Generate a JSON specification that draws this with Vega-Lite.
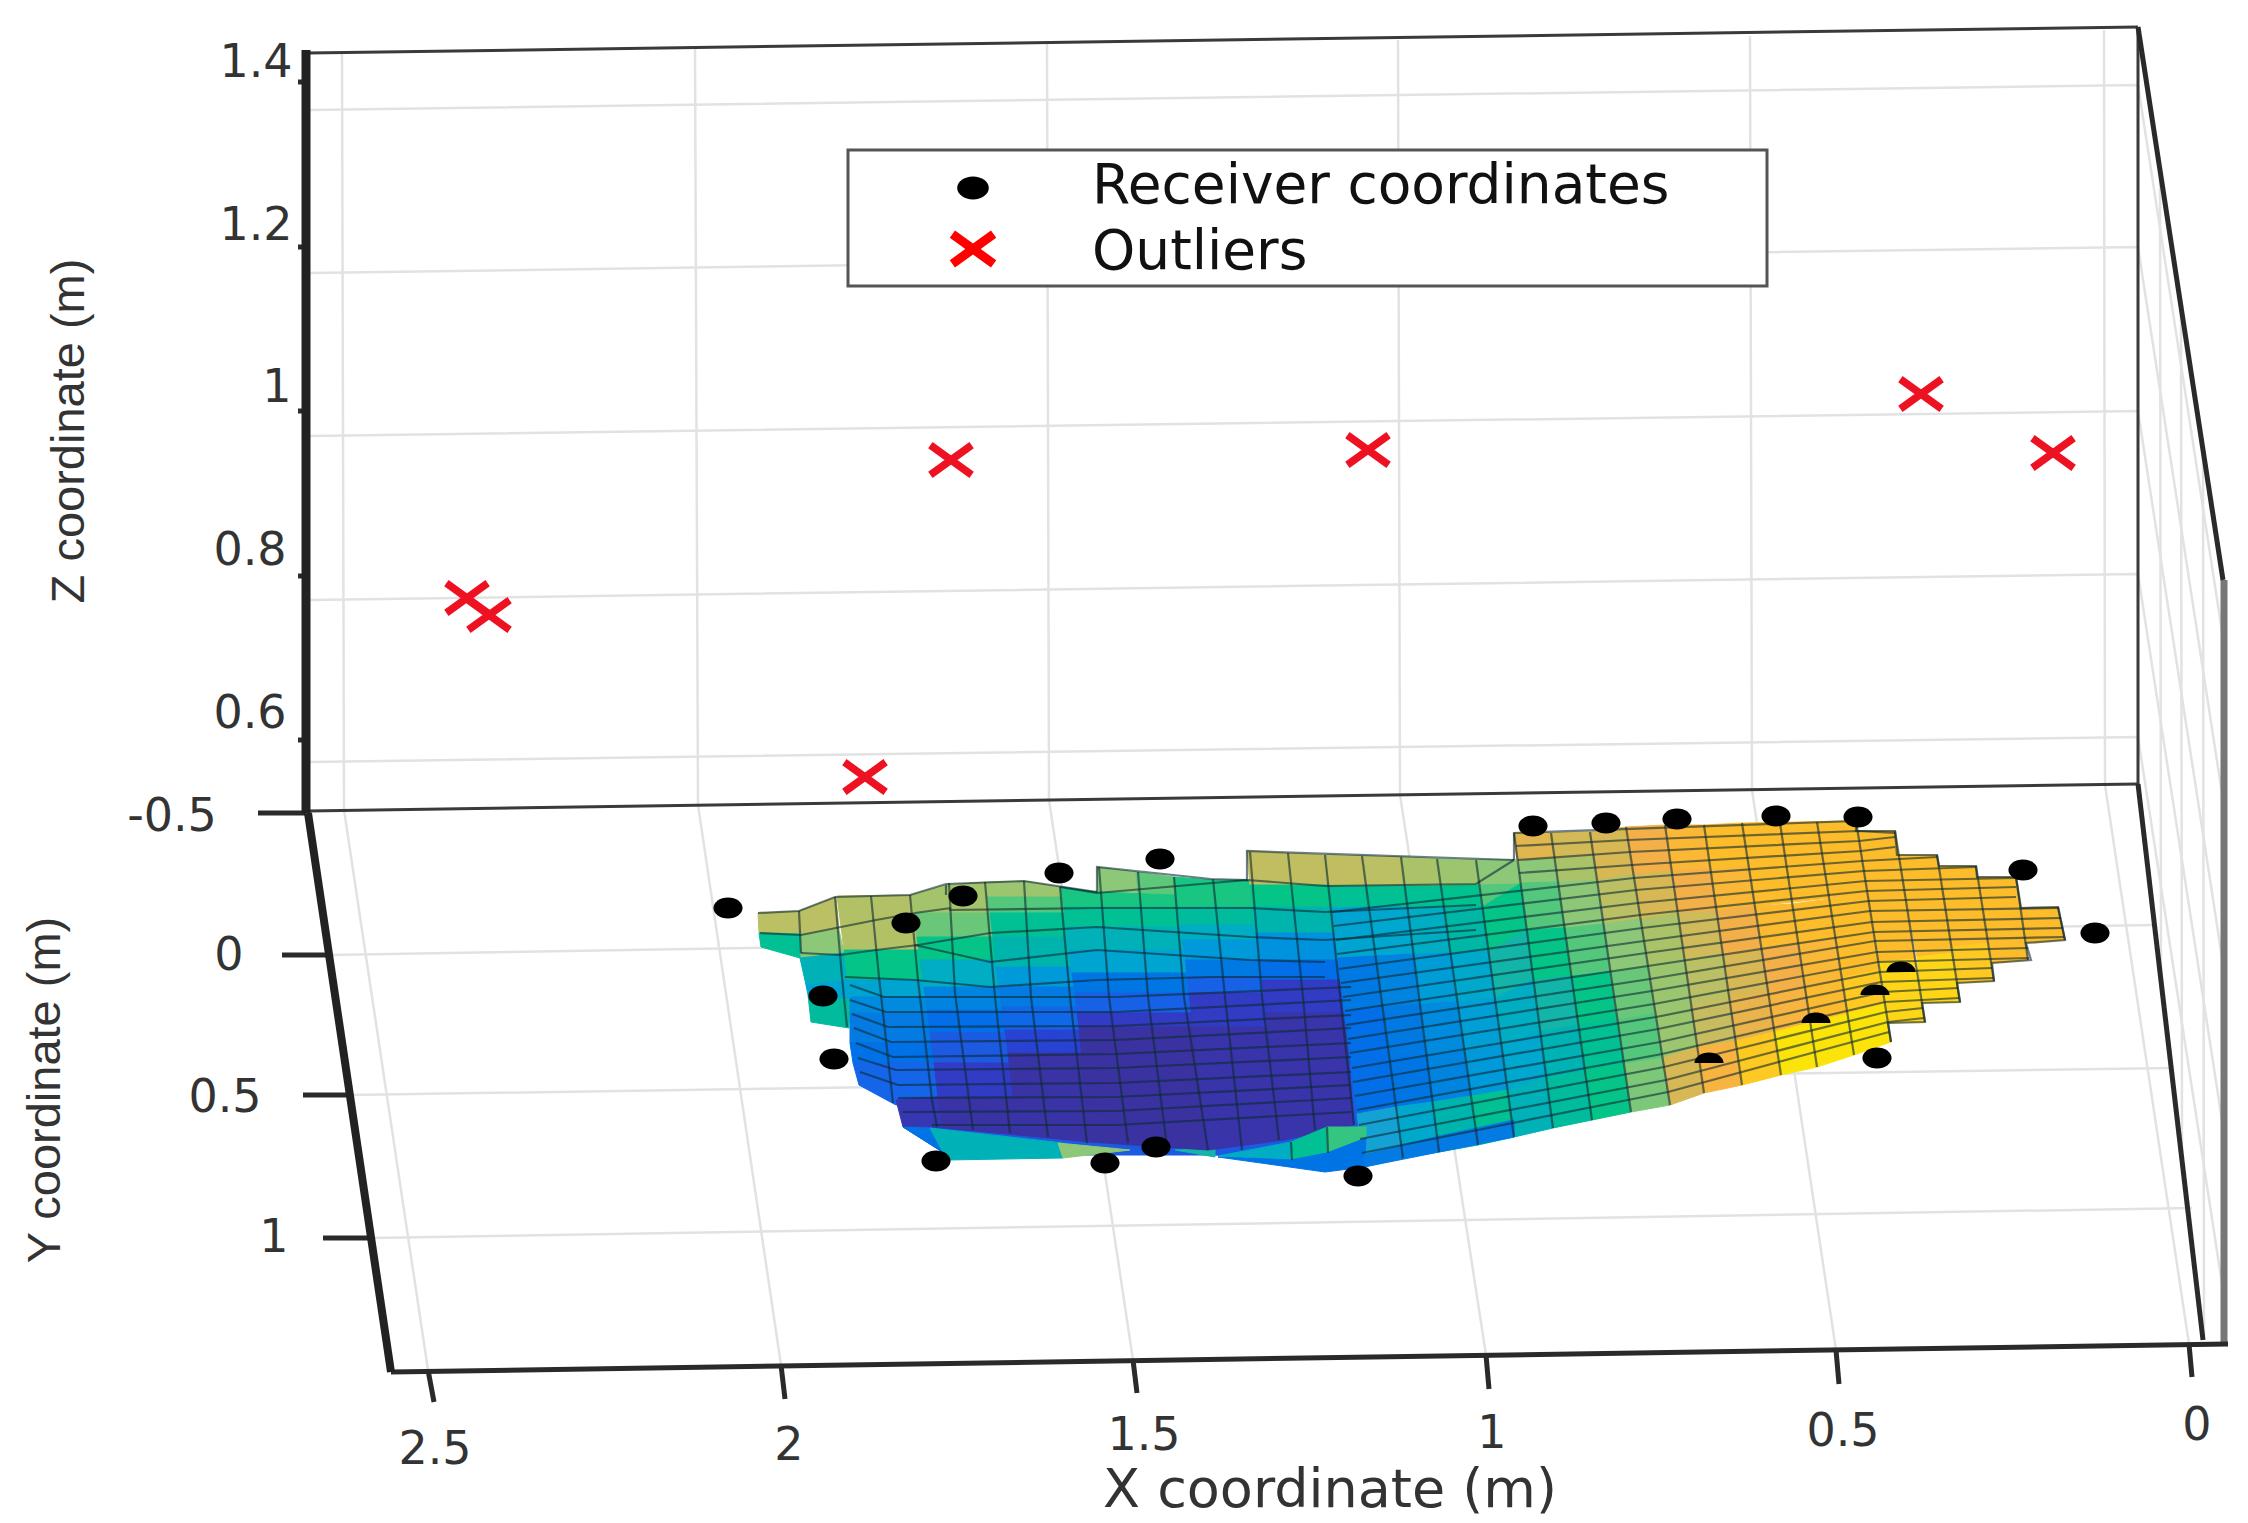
{"$schema":"https://vega.github.io/schema/vega-lite/v6.json","width":2248,"height":1523,"padding":0,"autosize":{"type":"none"},"background":"white","config":{"view":{"stroke":null}},
"layer":[
{"encoding":{"x":{"field":"x","type":"quantitative","scale":{"domain":[0,2248],"nice":false,"zero":false},"axis":null},"y":{"field":"y","type":"quantitative","scale":{"domain":[0,1523],"reverse":true,"nice":false,"zero":false},"axis":null}},
"layer":[
{"mark":{"type":"line","stroke":"#e2e2e2","strokeWidth":2.5},"encoding":{"detail":{"field":"i"}},"data":{"values":[
{"i":1,"x":342,"y":52},{"i":1,"x":344,"y":810},{"i":1,"x":428,"y":1370},
{"i":2,"x":695,"y":48},{"i":2,"x":698,"y":805},{"i":2,"x":781,"y":1365},
{"i":3,"x":1047,"y":44},{"i":3,"x":1049,"y":800},{"i":3,"x":1133,"y":1360},
{"i":4,"x":1398,"y":40},{"i":4,"x":1400,"y":795},{"i":4,"x":1486,"y":1355},
{"i":5,"x":1750,"y":36},{"i":5,"x":1752,"y":790},{"i":5,"x":1836,"y":1350},
{"i":6,"x":2104,"y":30},{"i":6,"x":2105,"y":785},{"i":6,"x":2189,"y":1344},
{"i":7,"x":310,"y":110},{"i":7,"x":2138,"y":85},{"i":7,"x":2223,"y":638},
{"i":8,"x":310,"y":273},{"i":8,"x":2138,"y":247},{"i":8,"x":2223,"y":800},
{"i":9,"x":310,"y":436},{"i":9,"x":2138,"y":411},{"i":9,"x":2223,"y":964},
{"i":10,"x":310,"y":600},{"i":10,"x":2138,"y":574},{"i":10,"x":2223,"y":1127},
{"i":11,"x":310,"y":762},{"i":11,"x":2138,"y":737},{"i":11,"x":2223,"y":1290},
{"i":12,"x":328,"y":955},{"i":12,"x":2154,"y":925},
{"i":13,"x":348,"y":1095},{"i":13,"x":2172,"y":1068},
{"i":14,"x":370,"y":1238},{"i":14,"x":2192,"y":1208},
{"i":15,"x":2160,"y":170},{"i":15,"x":2161,"y":972},
{"i":16,"x":2181,"y":307},{"i":16,"x":2182,"y":1152},
{"i":17,"x":2203,"y":450},{"i":17,"x":2204,"y":1340}]}},
{"mark":{"type":"rule","stroke":"#3a3a3a","strokeWidth":3},"encoding":{"x2":{"field":"x2"},"y2":{"field":"y2"}},"data":{"values":[
{"x":308,"y":53,"x2":2138,"y2":27},{"x":308,"y":811,"x2":2138,"y2":784},{"x":2138,"y":27,"x2":2138,"y2":784}]}},
{"mark":{"type":"rule","stroke":"#777777","strokeWidth":7},"encoding":{"x2":{"field":"x2"},"y2":{"field":"y2"}},"data":{"values":[{"x":2224,"y":580,"x2":2224,"y2":1344}]}},
{"mark":{"type":"rule","stroke":"#2a2a2a","strokeWidth":5},"encoding":{"x2":{"field":"x2"},"y2":{"field":"y2"}},"data":{"values":[
{"x":2138,"y":27,"x2":2223,"y2":580},{"x":2138,"y":784,"x2":2203,"y2":1340},{"x":391,"y":1372,"x2":2228,"y2":1344},
{"x":258,"y":813,"x2":306,"y2":813},{"x":282,"y":955,"x2":328,"y2":955},{"x":303,"y":1095,"x2":348,"y2":1095},{"x":323,"y":1238,"x2":370,"y2":1238},
{"x":428,"y":1370,"x2":434,"y2":1402},{"x":781,"y":1365,"x2":785,"y2":1399},{"x":1133,"y":1360,"x2":1137,"y2":1393},{"x":1486,"y":1355,"x2":1489,"y2":1389},{"x":1836,"y":1350,"x2":1839,"y2":1384},{"x":2189,"y":1344,"x2":2192,"y2":1377},
{"x":298,"y":82,"x2":306,"y2":82},{"x":298,"y":247,"x2":306,"y2":247},{"x":298,"y":411,"x2":306,"y2":411},{"x":298,"y":576,"x2":306,"y2":576},{"x":298,"y":740,"x2":306,"y2":740}]}},
{"mark":{"type":"rule","stroke":"#222222","strokeWidth":8},"encoding":{"x2":{"field":"x2"},"y2":{"field":"y2"}},"data":{"values":[{"x":308,"y":813,"x2":391,"y2":1372}]}},
{"mark":{"type":"rule","stroke":"#222222","strokeWidth":9},"encoding":{"x2":{"field":"x2"},"y2":{"field":"y2"}},"data":{"values":[{"x":306,"y":50,"x2":306,"y2":813}]}}
]},
{"mark":{"type":"geoshape"},"projection":{"type":"identity","scale":1,"translate":[0,0]},
"encoding":{"shape":{"field":"g","type":"geojson"},
"color":{"field":"v","type":"quantitative","legend":null,"scale":{"domain":[0,15,25,35,45,55,63,72,80,90,96,100],"range":["#3b2f96","#2a3fd0","#1565e8","#1180e0","#14a2d4","#12b5a8","#18c682","#8cc878","#c8bc60","#f4b048","#fdbc2a","#f8f200"]}},
"stroke":{"field":"v","type":"quantitative","legend":null,"scale":{"domain":[0,15,25,35,45,55,63,72,80,90,96,100],"range":["#3b2f96","#2a3fd0","#1565e8","#1180e0","#14a2d4","#12b5a8","#18c682","#8cc878","#c8bc60","#f4b048","#fdbc2a","#f8f200"]}}},
"data":{"values":[
{"v":22,"g":{"type":"Polygon","coordinates":[[[903,1127],[944,1153],[1063,1155],[1215,1155],[1325,1165],[1364,1160],[1360,1000],[1000,1000],[903,1127]]]}},
{"v":63,"g":{"type":"Polygon","coordinates":[[[1211,880],[1250,880],[1250,890],[1212,897],[1211,880]]]}},
{"v":78,"g":{"type":"Polygon","coordinates":[[[758,913],[799,911],[836,897],[839,930],[800,934],[759,933],[758,913]]]}},
{"v":72,"g":{"type":"Polygon","coordinates":[[[800,934],[839,930],[844,953],[800,958],[800,934]]]}},
{"v":60,"g":{"type":"Polygon","coordinates":[[[759,933],[800,934],[800,958],[761,947],[759,933]]]}},
{"v":52,"g":{"type":"Polygon","coordinates":[[[800,958],[844,953],[848,980],[806,985],[800,958]]]}},
{"v":46,"g":{"type":"Polygon","coordinates":[[[806,985],[848,980],[850,1000],[808,995],[806,985]]]}},
{"v":58,"g":{"type":"Polygon","coordinates":[[[808,995],[850,1000],[849,1028],[811,1022],[808,995]]]}},
{"v":77,"g":{"type":"Polygon","coordinates":[[[837,896],[912,895],[919,950],[844,950],[837,896]]]}},
{"v":62,"g":{"type":"Polygon","coordinates":[[[844,950],[919,950],[923,980],[848,980],[844,950]]]}},
{"v":46,"g":{"type":"Polygon","coordinates":[[[848,980],[923,980],[925,997],[850,997],[848,980]]]}},
{"v":38,"g":{"type":"Polygon","coordinates":[[[850,997],[925,997],[928,1013],[850,1013],[850,997]]]}},
{"v":33,"g":{"type":"Polygon","coordinates":[[[850,1013],[928,1013],[932,1043],[850,1043],[850,1013]]]}},
{"v":29,"g":{"type":"Polygon","coordinates":[[[850,1043],[932,1043],[934,1063],[853,1063],[850,1043]]]}},
{"v":25,"g":{"type":"Polygon","coordinates":[[[853,1063],[934,1063],[938,1100],[896,1105],[859,1085],[853,1063]]]}},
{"v":8,"g":{"type":"Polygon","coordinates":[[[896,1100],[938,1097],[943,1128],[903,1127],[896,1100]]]}},
{"v":30,"g":{"type":"Polygon","coordinates":[[[903,1127],[932,1128],[947,1160],[944,1153],[903,1127]]]}},
{"v":52,"g":{"type":"Polygon","coordinates":[[[930,1128],[1063,1143],[1063,1158],[947,1160],[930,1128]]]}},
{"v":72,"g":{"type":"Polygon","coordinates":[[[1058,1143],[1100,1147],[1130,1150],[1063,1158],[1058,1143]]]}},
{"v":55,"g":{"type":"Polygon","coordinates":[[[1175,1150],[1215,1148],[1215,1157],[1175,1150]]]}},
{"v":75,"g":{"type":"Polygon","coordinates":[[[911,895],[946,885],[986,882],[990,913],[915,913],[911,895]]]}},
{"v":68,"g":{"type":"Polygon","coordinates":[[[915,913],[990,913],[993,937],[917,937],[915,913]]]}},
{"v":62,"g":{"type":"Polygon","coordinates":[[[917,937],[993,937],[996,960],[920,960],[917,937]]]}},
{"v":50,"g":{"type":"Polygon","coordinates":[[[920,960],[996,960],[999,987],[924,987],[920,960]]]}},
{"v":36,"g":{"type":"Polygon","coordinates":[[[924,987],[999,987],[1002,1010],[927,1010],[924,987]]]}},
{"v":28,"g":{"type":"Polygon","coordinates":[[[927,1010],[1002,1010],[1005,1033],[930,1033],[927,1010]]]}},
{"v":22,"g":{"type":"Polygon","coordinates":[[[930,1033],[1005,1033],[1009,1063],[934,1063],[930,1033]]]}},
{"v":12,"g":{"type":"Polygon","coordinates":[[[934,1063],[1009,1063],[1013,1097],[938,1097],[934,1063]]]}},
{"v":4,"g":{"type":"Polygon","coordinates":[[[938,1097],[1013,1097],[1018,1135],[943,1128],[938,1097]]]}},
{"v":74,"g":{"type":"Polygon","coordinates":[[[986,882],[1024,881],[1060,887],[1063,897],[987,897],[986,882]]]}},
{"v":66,"g":{"type":"Polygon","coordinates":[[[987,897],[1063,897],[1065,913],[990,913],[987,897]]]}},
{"v":60,"g":{"type":"Polygon","coordinates":[[[990,913],[1065,913],[1068,937],[993,937],[990,913]]]}},
{"v":54,"g":{"type":"Polygon","coordinates":[[[993,937],[1068,937],[1072,967],[996,967],[993,937]]]}},
{"v":42,"g":{"type":"Polygon","coordinates":[[[996,967],[1072,967],[1075,987],[999,987],[996,967]]]}},
{"v":33,"g":{"type":"Polygon","coordinates":[[[999,987],[1075,987],[1077,1007],[1002,1007],[999,987]]]}},
{"v":26,"g":{"type":"Polygon","coordinates":[[[1002,1007],[1077,1007],[1080,1030],[1005,1030],[1002,1007]]]}},
{"v":16,"g":{"type":"Polygon","coordinates":[[[1005,1030],[1080,1030],[1083,1053],[1008,1053],[1005,1030]]]}},
{"v":4,"g":{"type":"Polygon","coordinates":[[[1008,1053],[1083,1053],[1090,1142],[1018,1135],[1008,1053]]]}},
{"v":72,"g":{"type":"Polygon","coordinates":[[[1097,867],[1136,872],[1138,893],[1098,892],[1097,867]]]}},
{"v":67,"g":{"type":"Polygon","coordinates":[[[1136,872],[1174,877],[1176,895],[1138,893],[1136,872]]]}},
{"v":63,"g":{"type":"Polygon","coordinates":[[[1174,877],[1211,880],[1212,897],[1176,895],[1174,877]]]}},
{"v":63,"g":{"type":"Polygon","coordinates":[[[1060,887],[1097,892],[1176,895],[1178,907],[1064,907],[1060,887]]]}},
{"v":60,"g":{"type":"Polygon","coordinates":[[[1064,907],[1178,907],[1180,927],[1066,927],[1064,907]]]}},
{"v":52,"g":{"type":"Polygon","coordinates":[[[1066,927],[1180,927],[1183,950],[1069,950],[1066,927]]]}},
{"v":46,"g":{"type":"Polygon","coordinates":[[[1069,950],[1183,950],[1186,973],[1072,973],[1069,950]]]}},
{"v":31,"g":{"type":"Polygon","coordinates":[[[1072,973],[1186,973],[1189,993],[1075,993],[1072,973]]]}},
{"v":24,"g":{"type":"Polygon","coordinates":[[[1075,993],[1189,993],[1192,1013],[1077,1013],[1075,993]]]}},
{"v":12,"g":{"type":"Polygon","coordinates":[[[1077,1013],[1192,1013],[1193,1027],[1079,1027],[1077,1013]]]}},
{"v":3,"g":{"type":"Polygon","coordinates":[[[1079,1027],[1193,1027],[1208,1150],[1090,1142],[1079,1027]]]}},
{"v":63,"g":{"type":"Polygon","coordinates":[[[1174,895],[1250,885],[1253,907],[1178,907],[1174,895]]]}},
{"v":58,"g":{"type":"Polygon","coordinates":[[[1178,907],[1253,907],[1255,925],[1180,925],[1178,907]]]}},
{"v":50,"g":{"type":"Polygon","coordinates":[[[1180,925],[1255,925],[1258,940],[1182,940],[1180,925]]]}},
{"v":42,"g":{"type":"Polygon","coordinates":[[[1182,940],[1258,940],[1260,960],[1185,960],[1182,940]]]}},
{"v":32,"g":{"type":"Polygon","coordinates":[[[1185,960],[1260,960],[1262,977],[1187,977],[1185,960]]]}},
{"v":24,"g":{"type":"Polygon","coordinates":[[[1187,977],[1262,977],[1264,993],[1189,993],[1187,977]]]}},
{"v":12,"g":{"type":"Polygon","coordinates":[[[1189,993],[1264,993],[1268,1027],[1193,1027],[1189,993]]]}},
{"v":5,"g":{"type":"Polygon","coordinates":[[[1193,1027],[1268,1027],[1284,1140],[1208,1150],[1193,1027]]]}},
{"v":79,"g":{"type":"Polygon","coordinates":[[[1247,851],[1286,853],[1325,855],[1329,885],[1250,885],[1247,851]]]}},
{"v":62,"g":{"type":"Polygon","coordinates":[[[1250,885],[1329,885],[1332,907],[1253,907],[1250,885]]]}},
{"v":54,"g":{"type":"Polygon","coordinates":[[[1253,907],[1332,907],[1335,933],[1256,933],[1253,907]]]}},
{"v":40,"g":{"type":"Polygon","coordinates":[[[1256,933],[1335,933],[1338,960],[1260,960],[1256,933]]]}},
{"v":28,"g":{"type":"Polygon","coordinates":[[[1260,960],[1338,960],[1341,980],[1262,980],[1260,960]]]}},
{"v":12,"g":{"type":"Polygon","coordinates":[[[1262,980],[1341,980],[1345,1013],[1266,1013],[1262,980]]]}},
{"v":5,"g":{"type":"Polygon","coordinates":[[[1266,1013],[1345,1013],[1354,1125],[1284,1140],[1266,1013]]]}},
{"v":60,"g":{"type":"Polygon","coordinates":[[[1325,855],[1362,856],[1369,907],[1332,908],[1325,855]]]}},
{"v":60,"g":{"type":"Polygon","coordinates":[[[1362,856],[1401,857],[1407,907],[1369,907],[1362,856]]]}},
{"v":60,"g":{"type":"Polygon","coordinates":[[[1401,857],[1437,859],[1444,908],[1407,907],[1401,857]]]}},
{"v":61,"g":{"type":"Polygon","coordinates":[[[1437,859],[1476,860],[1482,907],[1444,908],[1437,859]]]}},
{"v":66,"g":{"type":"Polygon","coordinates":[[[1476,860],[1516,860],[1521,883],[1482,907],[1476,860]]]}},
{"v":72,"g":{"type":"Polygon","coordinates":[[[1514,833],[1551,833],[1558,882],[1521,883],[1514,833]]]}},
{"v":76,"g":{"type":"Polygon","coordinates":[[[1551,833],[1590,832],[1597,880],[1558,882],[1551,833]]]}},
{"v":84,"g":{"type":"Polygon","coordinates":[[[1590,832],[1626,827],[1633,874],[1597,880],[1590,832]]]}},
{"v":90,"g":{"type":"Polygon","coordinates":[[[1626,827],[1665,825],[1672,871],[1633,874],[1626,827]]]}},
{"v":94,"g":{"type":"Polygon","coordinates":[[[1665,825],[1704,825],[1710,869],[1672,871],[1665,825]]]}},
{"v":96,"g":{"type":"Polygon","coordinates":[[[1704,825],[1742,823],[1749,866],[1710,869],[1704,825]]]}},
{"v":46,"g":{"type":"Polygon","coordinates":[[[1332,908],[1369,907],[1376,956],[1338,958],[1332,908]]]}},
{"v":47,"g":{"type":"Polygon","coordinates":[[[1369,907],[1407,907],[1414,954],[1376,956],[1369,907]]]}},
{"v":50,"g":{"type":"Polygon","coordinates":[[[1407,907],[1444,908],[1451,953],[1414,954],[1407,907]]]}},
{"v":56,"g":{"type":"Polygon","coordinates":[[[1444,908],[1482,907],[1489,951],[1451,953],[1444,908]]]}},
{"v":62,"g":{"type":"Polygon","coordinates":[[[1482,907],[1521,883],[1527,930],[1489,951],[1482,907]]]}},
{"v":66,"g":{"type":"Polygon","coordinates":[[[1521,883],[1558,882],[1565,928],[1527,930],[1521,883]]]}},
{"v":72,"g":{"type":"Polygon","coordinates":[[[1558,882],[1597,880],[1604,924],[1565,928],[1558,882]]]}},
{"v":78,"g":{"type":"Polygon","coordinates":[[[1597,880],[1633,874],[1641,919],[1604,924],[1597,880]]]}},
{"v":84,"g":{"type":"Polygon","coordinates":[[[1633,874],[1672,871],[1678,913],[1641,919],[1633,874]]]}},
{"v":90,"g":{"type":"Polygon","coordinates":[[[1672,871],[1710,869],[1717,911],[1678,913],[1672,871]]]}},
{"v":94,"g":{"type":"Polygon","coordinates":[[[1710,869],[1749,866],[1755,906],[1717,911],[1710,869]]]}},
{"v":96,"g":{"type":"Polygon","coordinates":[[[1742,823],[1856,821],[1868,894],[1755,906],[1742,823]]]}},
{"v":32,"g":{"type":"Polygon","coordinates":[[[1338,958],[1376,956],[1382,1007],[1344,1011],[1338,958]]]}},
{"v":36,"g":{"type":"Polygon","coordinates":[[[1376,956],[1414,954],[1420,1004],[1382,1007],[1376,956]]]}},
{"v":43,"g":{"type":"Polygon","coordinates":[[[1414,954],[1451,953],[1457,1002],[1420,1004],[1414,954]]]}},
{"v":48,"g":{"type":"Polygon","coordinates":[[[1451,953],[1489,951],[1495,998],[1457,1002],[1451,953]]]}},
{"v":55,"g":{"type":"Polygon","coordinates":[[[1489,951],[1527,930],[1533,980],[1495,998],[1489,951]]]}},
{"v":62,"g":{"type":"Polygon","coordinates":[[[1527,930],[1565,928],[1571,976],[1533,980],[1527,930]]]}},
{"v":66,"g":{"type":"Polygon","coordinates":[[[1565,928],[1604,924],[1610,972],[1571,976],[1565,928]]]}},
{"v":72,"g":{"type":"Polygon","coordinates":[[[1604,924],[1641,919],[1648,966],[1610,972],[1604,924]]]}},
{"v":76,"g":{"type":"Polygon","coordinates":[[[1641,919],[1678,913],[1684,959],[1648,966],[1641,919]]]}},
{"v":82,"g":{"type":"Polygon","coordinates":[[[1678,913],[1717,911],[1723,955],[1684,959],[1678,913]]]}},
{"v":90,"g":{"type":"Polygon","coordinates":[[[1717,911],[1755,906],[1761,949],[1723,955],[1717,911]]]}},
{"v":95,"g":{"type":"Polygon","coordinates":[[[1755,906],[1792,904],[1798,945],[1761,949],[1755,906]]]}},
{"v":96,"g":{"type":"Polygon","coordinates":[[[1792,904],[1868,894],[1873,931],[1798,945],[1792,904]]]}},
{"v":28,"g":{"type":"Polygon","coordinates":[[[1344,1011],[1382,1007],[1389,1058],[1351,1064],[1344,1011]]]}},
{"v":32,"g":{"type":"Polygon","coordinates":[[[1382,1007],[1420,1004],[1426,1055],[1389,1058],[1382,1007]]]}},
{"v":38,"g":{"type":"Polygon","coordinates":[[[1420,1004],[1457,1002],[1464,1051],[1426,1055],[1420,1004]]]}},
{"v":44,"g":{"type":"Polygon","coordinates":[[[1457,1002],[1495,998],[1501,1046],[1464,1051],[1457,1002]]]}},
{"v":50,"g":{"type":"Polygon","coordinates":[[[1495,998],[1533,980],[1540,1031],[1501,1046],[1495,998]]]}},
{"v":55,"g":{"type":"Polygon","coordinates":[[[1533,980],[1571,976],[1578,1025],[1540,1031],[1533,980]]]}},
{"v":62,"g":{"type":"Polygon","coordinates":[[[1571,976],[1610,972],[1617,1020],[1578,1025],[1571,976]]]}},
{"v":68,"g":{"type":"Polygon","coordinates":[[[1610,972],[1648,966],[1655,1013],[1617,1020],[1610,972]]]}},
{"v":74,"g":{"type":"Polygon","coordinates":[[[1648,966],[1684,959],[1691,1005],[1655,1013],[1648,966]]]}},
{"v":78,"g":{"type":"Polygon","coordinates":[[[1684,959],[1723,955],[1729,999],[1691,1005],[1684,959]]]}},
{"v":84,"g":{"type":"Polygon","coordinates":[[[1723,955],[1761,949],[1768,992],[1729,999],[1723,955]]]}},
{"v":90,"g":{"type":"Polygon","coordinates":[[[1761,949],[1798,945],[1805,986],[1768,992],[1761,949]]]}},
{"v":94,"g":{"type":"Polygon","coordinates":[[[1798,945],[1835,938],[1842,978],[1805,986],[1798,945]]]}},
{"v":96,"g":{"type":"Polygon","coordinates":[[[1835,938],[1873,931],[1879,969],[1842,978],[1835,938]]]}},
{"v":28,"g":{"type":"Polygon","coordinates":[[[1351,1064],[1389,1058],[1396,1107],[1357,1114],[1351,1064]]]}},
{"v":31,"g":{"type":"Polygon","coordinates":[[[1389,1058],[1426,1055],[1433,1102],[1396,1107],[1389,1058]]]}},
{"v":36,"g":{"type":"Polygon","coordinates":[[[1426,1055],[1464,1051],[1471,1096],[1433,1102],[1426,1055]]]}},
{"v":42,"g":{"type":"Polygon","coordinates":[[[1464,1051],[1501,1046],[1508,1090],[1471,1096],[1464,1051]]]}},
{"v":47,"g":{"type":"Polygon","coordinates":[[[1501,1046],[1540,1031],[1546,1078],[1508,1090],[1501,1046]]]}},
{"v":53,"g":{"type":"Polygon","coordinates":[[[1540,1031],[1578,1025],[1585,1071],[1546,1078],[1540,1031]]]}},
{"v":60,"g":{"type":"Polygon","coordinates":[[[1578,1025],[1617,1020],[1624,1064],[1585,1071],[1578,1025]]]}},
{"v":66,"g":{"type":"Polygon","coordinates":[[[1617,1020],[1655,1013],[1663,1058],[1624,1064],[1617,1020]]]}},
{"v":74,"g":{"type":"Polygon","coordinates":[[[1655,1013],[1691,1005],[1697,1047],[1663,1058],[1655,1013]]]}},
{"v":80,"g":{"type":"Polygon","coordinates":[[[1691,1005],[1729,999],[1736,1041],[1697,1047],[1691,1005]]]}},
{"v":88,"g":{"type":"Polygon","coordinates":[[[1729,999],[1768,992],[1774,1032],[1736,1041],[1729,999]]]}},
{"v":92,"g":{"type":"Polygon","coordinates":[[[1768,992],[1805,986],[1811,1026],[1774,1032],[1768,992]]]}},
{"v":95,"g":{"type":"Polygon","coordinates":[[[1805,986],[1842,978],[1848,1015],[1811,1026],[1805,986]]]}},
{"v":97,"g":{"type":"Polygon","coordinates":[[[1842,978],[1879,969],[1885,1004],[1848,1015],[1842,978]]]}},
{"v":45,"g":{"type":"Polygon","coordinates":[[[1357,1114],[1396,1107],[1403,1158],[1364,1167],[1357,1114]]]}},
{"v":48,"g":{"type":"Polygon","coordinates":[[[1396,1107],[1433,1102],[1439,1152],[1403,1158],[1396,1107]]]}},
{"v":54,"g":{"type":"Polygon","coordinates":[[[1433,1102],[1471,1096],[1478,1145],[1439,1152],[1433,1102]]]}},
{"v":60,"g":{"type":"Polygon","coordinates":[[[1471,1096],[1508,1090],[1514,1137],[1478,1145],[1471,1096]]]}},
{"v":52,"g":{"type":"Polygon","coordinates":[[[1508,1090],[1546,1078],[1553,1128],[1514,1137],[1508,1090]]]}},
{"v":58,"g":{"type":"Polygon","coordinates":[[[1546,1078],[1585,1071],[1592,1120],[1553,1128],[1546,1078]]]}},
{"v":62,"g":{"type":"Polygon","coordinates":[[[1585,1071],[1624,1064],[1631,1112],[1592,1120],[1585,1071]]]}},
{"v":70,"g":{"type":"Polygon","coordinates":[[[1624,1064],[1663,1058],[1670,1105],[1631,1112],[1624,1064]]]}},
{"v":84,"g":{"type":"Polygon","coordinates":[[[1663,1058],[1697,1047],[1704,1093],[1670,1105],[1663,1058]]]}},
{"v":92,"g":{"type":"Polygon","coordinates":[[[1697,1047],[1736,1041],[1742,1085],[1704,1093],[1697,1047]]]}},
{"v":97,"g":{"type":"Polygon","coordinates":[[[1736,1041],[1774,1032],[1781,1075],[1742,1085],[1736,1041]]]}},
{"v":99,"g":{"type":"Polygon","coordinates":[[[1774,1032],[1885,1004],[1891,1042],[1854,1055],[1817,1067],[1781,1075],[1774,1032]]]}},
{"v":96,"g":{"type":"Polygon","coordinates":[[[1858,831],[1895,831],[1915,959],[1879,962],[1858,831]]]}},
{"v":98,"g":{"type":"Polygon","coordinates":[[[1879,962],[1915,959],[1925,1022],[1888,1023],[1879,962]]]}},
{"v":96,"g":{"type":"Polygon","coordinates":[[[1897,855],[1937,855],[1952,953],[1917,957],[1897,855]]]}},
{"v":98,"g":{"type":"Polygon","coordinates":[[[1917,957],[1952,953],[1960,1002],[1922,1003],[1917,957]]]}},
{"v":96,"g":{"type":"Polygon","coordinates":[[[1939,866],[1976,866],[1988,943],[1951,947],[1939,866]]]}},
{"v":97,"g":{"type":"Polygon","coordinates":[[[1951,947],[1988,943],[1994,981],[1957,983],[1951,947]]]}},
{"v":96,"g":{"type":"Polygon","coordinates":[[[1977,877],[2016,877],[2028,960],[1992,963],[1977,877]]]}},
{"v":96,"g":{"type":"Polygon","coordinates":[[[2021,908],[2058,907],[2065,940],[2026,943],[2021,908]]]}},
{"v":79,"g":{"type":"Polygon","coordinates":[[[1325,855],[1362,856],[1364,885],[1329,885],[1325,855]]]}},
{"v":78,"g":{"type":"Polygon","coordinates":[[[1362,856],[1401,857],[1403,885],[1364,885],[1362,856]]]}},
{"v":76,"g":{"type":"Polygon","coordinates":[[[1401,857],[1437,859],[1440,885],[1403,885],[1401,857]]]}},
{"v":74,"g":{"type":"Polygon","coordinates":[[[1437,859],[1476,860],[1478,884],[1440,885],[1437,859]]]}},
{"v":72,"g":{"type":"Polygon","coordinates":[[[1476,860],[1516,860],[1521,883],[1478,884],[1476,860]]]}},
{"v":86,"g":{"type":"Polygon","coordinates":[[[1514,833],[1551,833],[1554,858],[1517,860],[1514,833]]]}},
{"v":83,"g":{"type":"Polygon","coordinates":[[[1551,833],[1590,832],[1593,855],[1554,858],[1551,833]]]}},
{"v":50,"g":{"type":"Polygon","coordinates":[[[1218,1156],[1291,1142],[1291,1160],[1218,1156]]]}},
{"v":60,"g":{"type":"Polygon","coordinates":[[[1291,1142],[1327,1127],[1327,1153],[1291,1160],[1291,1142]]]}},
{"v":64,"g":{"type":"Polygon","coordinates":[[[1327,1127],[1366,1127],[1366,1138],[1327,1153],[1327,1127]]]}},
{"v":30,"g":{"type":"Polygon","coordinates":[[[1218,1157],[1291,1160],[1327,1153],[1366,1138],[1364,1167],[1325,1172],[1218,1157]]]}},
{"v":33,"g":{"type":"Polygon","coordinates":[[[1364,1167],[1439,1152],[1514,1137],[1514,1120],[1439,1136],[1364,1155],[1364,1167]]]}}
]}},
{"encoding":{"x":{"field":"x","type":"quantitative"},"y":{"field":"y","type":"quantitative"}},
"layer":[
{"mark":{"type":"line","stroke":"#0d2a33","strokeWidth":2.2,"opacity":0.6},"encoding":{"detail":{"field":"i"}},"data":{"values":[
{"i":1,"x":799,"y":911},{"i":1,"x":801,"y":953},
{"i":2,"x":835,"y":897},{"i":2,"x":842,"y":977},{"i":2,"x":847,"y":1027},
{"i":3,"x":871,"y":896},{"i":3,"x":879,"y":977},{"i":3,"x":893,"y":1103},
{"i":4,"x":910,"y":895},{"i":4,"x":918,"y":980},{"i":4,"x":932,"y":1100},{"i":4,"x":937,"y":1127},
{"i":5,"x":949,"y":883},{"i":5,"x":955,"y":993},{"i":5,"x":973,"y":1130},
{"i":6,"x":985,"y":882},{"i":6,"x":995,"y":997},{"i":6,"x":1010,"y":1133},
{"i":7,"x":1024,"y":881},{"i":7,"x":1031,"y":997},{"i":7,"x":1048,"y":1137},
{"i":8,"x":1060,"y":887},{"i":8,"x":1070,"y":997},{"i":8,"x":1087,"y":1143},
{"i":9,"x":1099,"y":867},{"i":9,"x":1109,"y":997},{"i":9,"x":1128,"y":1143},
{"i":10,"x":1138,"y":872},{"i":10,"x":1148,"y":997},{"i":10,"x":1167,"y":1147},
{"i":11,"x":1174,"y":877},{"i":11,"x":1184,"y":997},{"i":11,"x":1208,"y":1150},
{"i":12,"x":1213,"y":879},{"i":12,"x":1225,"y":997},{"i":12,"x":1242,"y":1150},
{"i":13,"x":1250,"y":852},{"i":13,"x":1262,"y":997},{"i":13,"x":1279,"y":1140},
{"i":14,"x":1288,"y":853},{"i":14,"x":1303,"y":997},{"i":14,"x":1315,"y":1130},
{"i":15,"x":1325,"y":855},{"i":15,"x":1354,"y":1125},
{"i":16,"x":1291,"y":1142},{"i":16,"x":1292,"y":1160},
{"i":17,"x":1327,"y":1127},{"i":17,"x":1328,"y":1153},
{"i":21,"x":1362,"y":856},{"i":21,"x":1403,"y":1158},
{"i":22,"x":1401,"y":857},{"i":22,"x":1439,"y":1152},
{"i":23,"x":1437,"y":859},{"i":23,"x":1478,"y":1145},
{"i":24,"x":1476,"y":860},{"i":24,"x":1514,"y":1137},
{"i":25,"x":1514,"y":833},{"i":25,"x":1553,"y":1128},
{"i":26,"x":1551,"y":833},{"i":26,"x":1592,"y":1120},
{"i":27,"x":1590,"y":832},{"i":27,"x":1631,"y":1112},
{"i":28,"x":1626,"y":827},{"i":28,"x":1670,"y":1105},
{"i":29,"x":1665,"y":825},{"i":29,"x":1704,"y":1093},
{"i":30,"x":1704,"y":825},{"i":30,"x":1742,"y":1085},
{"i":31,"x":1742,"y":823},{"i":31,"x":1781,"y":1075},
{"i":32,"x":1780,"y":823},{"i":32,"x":1817,"y":1067},
{"i":33,"x":1817,"y":822},{"i":33,"x":1854,"y":1055},
{"i":34,"x":1856,"y":821},{"i":34,"x":1891,"y":1042},
{"i":35,"x":1895,"y":831},{"i":35,"x":1925,"y":1022},
{"i":36,"x":1937,"y":855},{"i":36,"x":1960,"y":1002},
{"i":37,"x":1976,"y":866},{"i":37,"x":1994,"y":981},
{"i":38,"x":2016,"y":877},{"i":38,"x":2028,"y":960},
{"i":39,"x":2058,"y":907},{"i":39,"x":2065,"y":940},
{"i":41,"x":760,"y":933},{"i":41,"x":801,"y":935},{"i":41,"x":876,"y":920},{"i":41,"x":915,"y":913},{"i":41,"x":951,"y":908},
{"i":42,"x":801,"y":953},{"i":42,"x":840,"y":955},{"i":42,"x":876,"y":950},{"i":42,"x":918,"y":945},
{"i":43,"x":1060,"y":887},{"i":43,"x":1097,"y":893},{"i":43,"x":1247,"y":880},{"i":43,"x":1325,"y":886},{"i":43,"x":1476,"y":884},{"i":43,"x":1514,"y":860},
{"i":44,"x":949,"y":910},{"i":44,"x":1097,"y":908},{"i":44,"x":1250,"y":908},{"i":44,"x":1325,"y":912},{"i":44,"x":1476,"y":905},
{"i":45,"x":918,"y":945},{"i":45,"x":990,"y":933},{"i":45,"x":1097,"y":927},{"i":45,"x":1250,"y":937},{"i":45,"x":1325,"y":940},{"i":45,"x":1476,"y":930},
{"i":46,"x":915,"y":945},{"i":46,"x":990,"y":962},{"i":46,"x":1097,"y":950},{"i":46,"x":1250,"y":960},{"i":46,"x":1325,"y":962},
{"i":47,"x":845,"y":977},{"i":47,"x":915,"y":980},{"i":47,"x":990,"y":987},{"i":47,"x":1097,"y":980},{"i":47,"x":1213,"y":977},{"i":47,"x":1325,"y":977},
{"i":51,"x":850,"y":985},{"i":51,"x":884,"y":997},{"i":51,"x":1116,"y":997},{"i":51,"x":1351,"y":987},
{"i":52,"x":850,"y":1000},{"i":52,"x":886,"y":1012},{"i":52,"x":1116,"y":1012},{"i":52,"x":1351,"y":1000},
{"i":53,"x":852,"y":1014},{"i":53,"x":888,"y":1027},{"i":53,"x":1116,"y":1026},{"i":53,"x":1351,"y":1015},
{"i":54,"x":854,"y":1028},{"i":54,"x":891,"y":1042},{"i":54,"x":1116,"y":1040},{"i":54,"x":1351,"y":1028},
{"i":55,"x":856,"y":1043},{"i":55,"x":893,"y":1057},{"i":55,"x":1116,"y":1054},{"i":55,"x":1351,"y":1043},
{"i":56,"x":858,"y":1058},{"i":56,"x":896,"y":1070},{"i":56,"x":1116,"y":1068},{"i":56,"x":1351,"y":1057},
{"i":57,"x":860,"y":1072},{"i":57,"x":898,"y":1085},{"i":57,"x":1116,"y":1083},{"i":57,"x":1351,"y":1072},
{"i":58,"x":898,"y":1098},{"i":58,"x":1116,"y":1097},{"i":58,"x":1351,"y":1085},
{"i":59,"x":903,"y":1112},{"i":59,"x":1116,"y":1111},{"i":59,"x":1351,"y":1098},
{"i":60,"x":932,"y":1125},{"i":60,"x":1116,"y":1125},{"i":60,"x":1351,"y":1112},
{"i":61,"x":1516,"y":846},{"i":61,"x":1628,"y":840},{"i":61,"x":1858,"y":831},{"i":61,"x":1895,"y":833},
{"i":62,"x":1518,"y":860},{"i":62,"x":1630,"y":852},{"i":62,"x":1859,"y":841},{"i":62,"x":1895,"y":837},
{"i":63,"x":1519,"y":873},{"i":63,"x":1632,"y":865},{"i":63,"x":1861,"y":851},{"i":63,"x":1895,"y":847},
{"i":64,"x":1332,"y":912},{"i":64,"x":1634,"y":878},{"i":64,"x":1862,"y":861},{"i":64,"x":1937,"y":857},
{"i":65,"x":1334,"y":926},{"i":65,"x":1636,"y":890},{"i":65,"x":1864,"y":871},{"i":65,"x":1976,"y":867},
{"i":66,"x":1336,"y":940},{"i":66,"x":1638,"y":903},{"i":66,"x":1866,"y":881},{"i":66,"x":2016,"y":878},
{"i":67,"x":1337,"y":954},{"i":67,"x":1640,"y":915},{"i":67,"x":1867,"y":891},{"i":67,"x":2016,"y":887},
{"i":68,"x":1339,"y":969},{"i":68,"x":1642,"y":928},{"i":68,"x":1869,"y":901},{"i":68,"x":2016,"y":897},
{"i":69,"x":1341,"y":983},{"i":69,"x":1644,"y":941},{"i":69,"x":1870,"y":911},{"i":69,"x":2059,"y":908},
{"i":70,"x":1343,"y":997},{"i":70,"x":1646,"y":953},{"i":70,"x":1872,"y":922},{"i":70,"x":2061,"y":918},
{"i":71,"x":1345,"y":1011},{"i":71,"x":1648,"y":966},{"i":71,"x":1874,"y":932},{"i":71,"x":2063,"y":928},
{"i":72,"x":1346,"y":1025},{"i":72,"x":1650,"y":979},{"i":72,"x":1875,"y":941},{"i":72,"x":2064,"y":937},
{"i":73,"x":1348,"y":1039},{"i":73,"x":1652,"y":991},{"i":73,"x":1877,"y":952},{"i":73,"x":2028,"y":948},
{"i":74,"x":1350,"y":1053},{"i":74,"x":1654,"y":1004},{"i":74,"x":1878,"y":962},{"i":74,"x":2029,"y":958},
{"i":75,"x":1352,"y":1068},{"i":75,"x":1656,"y":1017},{"i":75,"x":1880,"y":972},{"i":75,"x":1992,"y":968},
{"i":76,"x":1353,"y":1082},{"i":76,"x":1658,"y":1029},{"i":76,"x":1881,"y":982},{"i":76,"x":1993,"y":978},
{"i":77,"x":1355,"y":1096},{"i":77,"x":1660,"y":1042},{"i":77,"x":1883,"y":992},{"i":77,"x":1958,"y":988},
{"i":78,"x":1357,"y":1110},{"i":78,"x":1662,"y":1054},{"i":78,"x":1885,"y":1002},{"i":78,"x":1959,"y":998},
{"i":79,"x":1359,"y":1125},{"i":79,"x":1664,"y":1067},{"i":79,"x":1886,"y":1012},{"i":79,"x":1923,"y":1008},
{"i":80,"x":1360,"y":1139},{"i":80,"x":1666,"y":1080},{"i":80,"x":1888,"y":1022},{"i":80,"x":1924,"y":1018},
{"i":81,"x":1362,"y":1153},{"i":81,"x":1668,"y":1092},{"i":81,"x":1889,"y":1032}]}},
{"mark":{"type":"line","stroke":"#0d2a33","strokeWidth":2.2,"opacity":0.6},"encoding":{"detail":{"field":"i"},"order":{"field":"k","type":"quantitative"}},"data":{"values":[
{"i":1,"k":1,"x":1514,"y":860},{"i":1,"k":2,"x":1514,"y":833},{"i":1,"k":3,"x":1856,"y":821},{"i":1,"k":4,"x":1856,"y":831},{"i":1,"k":5,"x":1895,"y":831},{"i":1,"k":6,"x":1897,"y":855},{"i":1,"k":7,"x":1937,"y":855},{"i":1,"k":8,"x":1939,"y":866},{"i":1,"k":9,"x":1976,"y":866},{"i":1,"k":10,"x":1977,"y":877},{"i":1,"k":11,"x":2016,"y":877},{"i":1,"k":12,"x":2021,"y":908},{"i":1,"k":13,"x":2058,"y":907},{"i":1,"k":14,"x":2065,"y":940},{"i":1,"k":15,"x":2026,"y":943},{"i":1,"k":16,"x":2031,"y":960},{"i":1,"k":17,"x":1992,"y":963},{"i":1,"k":18,"x":1994,"y":981},{"i":1,"k":19,"x":1957,"y":983},{"i":1,"k":20,"x":1960,"y":1002},{"i":1,"k":21,"x":1922,"y":1003},{"i":1,"k":22,"x":1925,"y":1022},{"i":1,"k":23,"x":1888,"y":1023},{"i":1,"k":24,"x":1891,"y":1042},
{"i":2,"k":1,"x":1097,"y":892},{"i":2,"k":2,"x":1097,"y":867},{"i":2,"k":3,"x":1211,"y":879},{"i":2,"k":4,"x":1247,"y":880},{"i":2,"k":5,"x":1247,"y":851},{"i":2,"k":6,"x":1514,"y":860},
{"i":3,"k":1,"x":946,"y":885},{"i":3,"k":2,"x":946,"y":895},
{"i":4,"k":1,"x":758,"y":913},{"i":4,"k":2,"x":799,"y":911},{"i":4,"k":3,"x":835,"y":897},{"i":4,"k":4,"x":910,"y":895},{"i":4,"k":5,"x":946,"y":884},{"i":4,"k":6,"x":1024,"y":881},{"i":4,"k":7,"x":1097,"y":892}]}},
{"mark":{"type":"point","shape":"M-1,0A1,.72 0 1 1 1,0A1,.72 0 1 1 -1,0Z","size":850,"filled":true,"color":"#000000","opacity":1},"data":{"values":[
{"x":728,"y":908},{"x":906,"y":923},{"x":963,"y":896},{"x":1059,"y":873},{"x":1160,"y":859},{"x":823,"y":996},{"x":834,"y":1059},{"x":936,"y":1161},{"x":1105,"y":1163},{"x":1156,"y":1147},{"x":1358,"y":1176},{"x":1533,"y":826},{"x":1606,"y":823},{"x":1677,"y":819},{"x":1776,"y":816},{"x":1858,"y":817},{"x":2023,"y":870},{"x":2095,"y":933},{"x":1877,"y":1058}]}},
{"mark":{"type":"point","shape":"M-1,0A1,.72 0 0 1 1,0Z","size":850,"filled":true,"color":"#000000","opacity":1},"data":{"values":[
{"x":1901,"y":972},{"x":1875,"y":995},{"x":1816,"y":1023},{"x":1709,"y":1063}]}},
{"mark":{"type":"point","shape":"M-1,-.72L1,.72M-1,.72L1,-.72","size":1700,"filled":false,"stroke":"#ee1122","strokeWidth":7.5,"opacity":1},"data":{"values":[
{"x":467,"y":598},{"x":489,"y":615},{"x":951,"y":460},{"x":1368,"y":450},{"x":1921,"y":394},{"x":2053,"y":453},{"x":865,"y":777}]}},
{"mark":{"type":"rect","fill":"white","stroke":"#555555","strokeWidth":3},"encoding":{"x2":{"field":"x2"},"y2":{"field":"y2"}},"data":{"values":[{"x":848,"y":150,"x2":1767,"y2":286}]}},
{"mark":{"type":"point","shape":"M-1,0A1,.72 0 1 1 1,0A1,.72 0 1 1 -1,0Z","size":1000,"filled":true,"color":"#000000","opacity":1},"data":{"values":[{"x":973,"y":188}]}},
{"mark":{"type":"point","shape":"M-1,-.72L1,.72M-1,.72L1,-.72","size":1700,"filled":false,"stroke":"#ff0000","strokeWidth":9,"opacity":1},"data":{"values":[{"x":973,"y":249}]}},
{"mark":{"type":"text","font":"DejaVu Sans","fontSize":55,"align":"left","baseline":"middle","color":"#111111"},"encoding":{"text":{"field":"t"}},"data":{"values":[{"t":"Receiver coordinates","x":1092,"y":186},{"t":"Outliers","x":1092,"y":252}]}},
{"mark":{"type":"text","font":"DejaVu Sans","fontSize":46,"align":"center","baseline":"middle","color":"#333333"},"encoding":{"text":{"field":"t"}},"data":{"values":[
{"t":"1.4","x":256,"y":63},{"t":"1.2","x":256,"y":226},{"t":"1","x":277,"y":388},{"t":"0.8","x":250,"y":551},{"t":"0.6","x":250,"y":714},{"t":"-0.5","x":172,"y":817},
{"t":"0","x":229,"y":956},{"t":"0.5","x":225,"y":1098},{"t":"1","x":274,"y":1238},
{"t":"2.5","x":435,"y":1450},{"t":"2","x":789,"y":1446},{"t":"1.5","x":1144,"y":1436},{"t":"1","x":1492,"y":1434},{"t":"0.5","x":1843,"y":1432},{"t":"0","x":2197,"y":1426}]}},
{"mark":{"type":"text","font":"DejaVu Sans","fontSize":54,"align":"center","baseline":"middle","color":"#333333"},"encoding":{"text":{"field":"t"}},"data":{"values":[{"t":"X coordinate (m)","x":1330,"y":1491}]}},
{"mark":{"type":"text","font":"Liberation Sans","fontSize":47,"align":"center","baseline":"middle","angle":270,"color":"#333333"},"encoding":{"text":{"field":"t"}},"data":{"values":[{"t":"Z coordinate (m)","x":70,"y":431},{"t":"Y coordinate (m)","x":46,"y":1090}]}}
]}
]}
